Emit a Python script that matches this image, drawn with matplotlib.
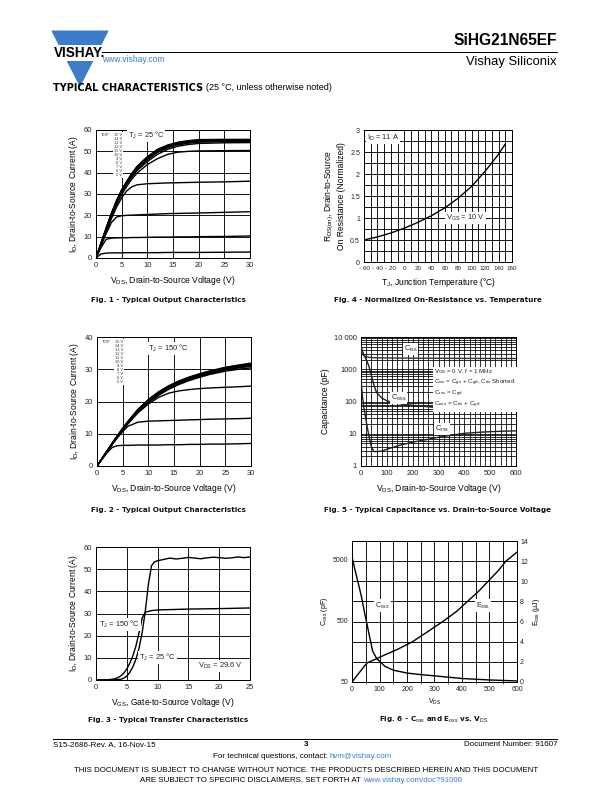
import matplotlib
matplotlib.use('Agg')
import matplotlib.pyplot as plt
from matplotlib.ticker import MultipleLocator, LogLocator, FixedLocator, NullFormatter
from matplotlib.patches import Polygon

plt.rcParams['font.family'] = ['Liberation Sans', 'DejaVu Sans']
plt.rcParams['mathtext.fontset'] = 'custom'
plt.rcParams['mathtext.rm'] = 'Liberation Sans'
plt.rcParams['mathtext.it'] = 'Liberation Sans'
plt.rcParams['mathtext.bf'] = 'Liberation Sans:bold'

W, H = 612, 792
BLUE = '#3d7cc9'

# ---------------- data ----------------
# Fig 1 - output characteristics, Tj = 25 C
f1_vds = [0, 1, 2, 3, 4, 5, 6, 7, 8, 10, 12, 14, 16, 18, 20, 25, 30]
f1_curves = {
    '15 V': [0, 7.2, 14.2, 21, 27, 32, 36, 39.8, 43, 47.5, 51, 53, 54.3, 55, 55.5, 55.6, 55.6],
    '14 V': [0, 7.1, 14, 20.8, 26.8, 31.8, 35.8, 39.5, 42.7, 47.2, 50.7, 52.7, 54, 54.8, 55.2, 55.4, 55.4],
    '13 V': [0, 7, 13.9, 20.6, 26.6, 31.6, 35.6, 39.2, 42.4, 46.9, 50.4, 52.4, 53.7, 54.5, 55, 55.1, 55.2],
    '12 V': [0, 6.9, 13.8, 20.4, 26.4, 31.4, 35.4, 38.9, 42, 46.5, 50, 52.1, 53.4, 54.2, 54.7, 54.9, 55],
    '11 V': [0, 6.8, 13.6, 20.2, 26.1, 31.1, 35, 38.5, 41.6, 46, 49.5, 51.7, 53, 53.8, 54.3, 54.5, 54.6],
    '10 V': [0, 6.7, 13.4, 19.9, 25.7, 30.6, 34.5, 38, 41, 45.2, 48.6, 51, 52.4, 53.2, 53.7, 54, 54.1],
    '9 V': [0, 6.5, 13, 19.3, 25, 29.8, 33.6, 37, 39.8, 43.8, 46.6, 48.6, 49.6, 50, 50.2, 50.3, 50.4],
    '8 V': [0, 6.2, 12.4, 18.4, 23.8, 28.2, 31.5, 33.4, 34.3, 34.8, 35, 35.2, 35.3, 35.4, 35.5, 35.7, 36],
    '7 V': [0, 5.8, 11.5, 16.6, 19.2, 19.8, 20, 20.1, 20.2, 20.4, 20.6, 20.8, 20.9, 21, 21.1, 21.4, 21.7],
    '6 V': [0, 5, 8.8, 9.3, 9.4, 9.5, 9.5, 9.6, 9.6, 9.7, 9.8, 9.8, 9.9, 9.9, 10, 10.1, 10.3],
    '5 V': [0, 1.9, 2.3, 2.4, 2.4, 2.4, 2.5, 2.5, 2.5, 2.5, 2.5, 2.6, 2.6, 2.6, 2.6, 2.7, 2.8],
}

# Fig 2 - output characteristics, Tj = 150 C
f2_vds = [0, 1, 2, 3, 4, 5, 6, 8, 10, 12, 14, 16, 18, 20, 22, 25, 28, 30]
f2_curves = {
    '15 V': [0, 2.4, 4.8, 7.2, 9.5, 11.7, 13.8, 17.6, 20.6, 23, 24.9, 26.4, 27.6, 28.6, 29.5, 30.6, 31.4, 31.9],
    '14 V': [0, 2.4, 4.8, 7.1, 9.4, 11.6, 13.7, 17.5, 20.5, 22.9, 24.8, 26.3, 27.5, 28.5, 29.4, 30.5, 31.3, 31.7],
    '13 V': [0, 2.4, 4.7, 7.1, 9.4, 11.6, 13.6, 17.4, 20.4, 22.8, 24.7, 26.2, 27.4, 28.4, 29.3, 30.4, 31.1, 31.5],
    '12 V': [0, 2.3, 4.7, 7, 9.3, 11.5, 13.5, 17.3, 20.3, 22.6, 24.5, 26, 27.2, 28.2, 29.1, 30.2, 30.9, 31.3],
    '11 V': [0, 2.3, 4.7, 7, 9.3, 11.4, 13.5, 17.2, 20.1, 22.4, 24.3, 25.8, 27, 28, 28.9, 30, 30.7, 31.1],
    '10 V': [0, 2.3, 4.6, 6.9, 9.2, 11.3, 13.4, 17, 19.9, 22.2, 24.1, 25.6, 26.8, 27.8, 28.7, 29.8, 30.5, 30.9],
    '9 V': [0, 2.3, 4.6, 6.9, 9.1, 11.2, 13.2, 16.8, 19.6, 21.9, 23.8, 25.3, 26.5, 27.5, 28.4, 29.4, 30.1, 30.4],
    '8 V': [0, 2.3, 4.6, 6.8, 9, 11.1, 13, 16.5, 19.2, 21.3, 22.6, 23.3, 23.7, 24, 24.2, 24.4, 24.6, 24.8],
    '7 V': [0, 2.2, 4.5, 6.7, 8.8, 10.7, 12.3, 13.6, 13.9, 14, 14.1, 14.2, 14.3, 14.4, 14.5, 14.6, 14.7, 14.8],
    '6 V': [0, 2.1, 4.2, 5.8, 6.3, 6.4, 6.4, 6.5, 6.5, 6.5, 6.6, 6.6, 6.7, 6.7, 6.8, 6.8, 6.9, 7],
}

# Fig 3 - transfer characteristics
f3_vgs_25 = [0, 2, 3, 4, 4.5, 5, 5.5, 6, 6.5, 7, 7.5, 8, 8.5, 9, 9.5, 10, 11, 12, 13, 14, 15, 16, 17, 18, 19, 20, 21, 22, 23, 24, 25]
f3_id_25 = [0, 0, 0.1, 0.3, 0.8, 1.8, 3.5, 6, 9.5, 14.5, 21.5, 31, 43, 51.5, 53.3, 53.8, 54.4, 55, 54.6, 54.9, 55.3, 55, 54.7, 55.1, 55.4, 55.2, 54.9, 55.1, 55.5, 55.2, 55.5]
f3_vgs_150 = [0, 2, 3, 3.5, 4, 4.5, 5, 5.5, 6, 6.5, 7, 7.5, 8, 9, 10, 15, 20, 25]
f3_id_150 = [0, 0.1, 0.5, 1, 1.8, 3, 5, 7.6, 11, 15.5, 21.5, 28, 30.6, 31.3, 31.6, 32, 32.2, 32.5]

# Fig 4 - normalized on-resistance vs temperature
f4_tj = [-60, -40, -20, 0, 20, 40, 60, 80, 100, 120, 140, 150]
f4_rds = [0.5, 0.57, 0.66, 0.77, 0.9, 1.05, 1.23, 1.45, 1.72, 2.06, 2.45, 2.68]

# Fig 5 - capacitance vs VDS
f5_vds = [0, 5, 10, 20, 30, 40, 50, 60, 80, 100, 120, 150, 200, 250, 300, 350, 400, 450, 500, 550, 600]
f5_ciss = [3800, 3000, 2700, 2450, 2350, 2300, 2280, 2260, 2250, 2240, 2230, 2220, 2210, 2200, 2190, 2180, 2170, 2165, 2160, 2155, 2150]
f5_coss = [5500, 3800, 2900, 2000, 1300, 650, 330, 190, 130, 105, 95, 85, 76, 70, 64, 60, 57, 55, 54, 53, 52]
f5_crss = [520, 160, 75, 25, 9, 4, 2.8, 2.8, 2.9, 3.3, 3.7, 4.4, 5.5, 6.5, 7.8, 9, 10.3, 11, 11.6, 12, 12.3]

# Fig 6 - Coss and Eoss vs VDS
f6_vds_c = [0, 10, 20, 27, 35, 45, 55, 65, 75, 90, 120, 150, 200, 250, 300, 400, 500, 600]
f6_coss = [5500, 3500, 2300, 1700, 1200, 700, 430, 260, 160, 120, 90, 78, 70, 66, 63, 57, 54, 52]
f6_vds_e = [0, 20, 40, 55, 80, 120, 170, 220, 270, 330, 380, 420, 460, 495, 530, 560, 600]
f6_eoss = [0, 0.7, 1.4, 1.9, 2.2, 2.7, 3.3, 4.0, 4.9, 6.0, 7.0, 8.0, 9.0, 10.0, 11.0, 12.0, 12.9]

legend_vgs = ['15 V', '14 V', '13 V', '12 V', '11 V', '10 V', '9 V', '8 V', '7 V', '6 V', '5 V']

# ---------------- figure ----------------
fig = plt.figure(figsize=(W / 72, H / 72), dpi=72)

TICK = 7.5
LAB = 8.5
ANN = 7.5


def px_axes(x0, y0, x1, y1):
    return fig.add_axes([x0 / W, 1 - y1 / H, (x1 - x0) / W, (y1 - y0) / H])


def style(ax, fs=TICK):
    ax.tick_params(length=0, labelsize=fs, pad=4, colors='#222222')
    for s in ax.spines.values():
        s.set_linewidth(1.0)
        s.set_color('black')
    ax.set_axisbelow(True)


def boxed(ax, x, y, s, fs=ANN, **kw):
    ax.text(x, y, s, fontsize=fs, color='#222222', va='center', ha=kw.pop('ha', 'left'),
            bbox=dict(facecolor='white', edgecolor='none', pad=1.0), zorder=5, **kw)


def vgs_legend(ax):
    ax.text(0.03, 0.975, 'TOP', transform=ax.transAxes, fontsize=4.3, va='top', ha='left',
            color='#333333', zorder=6)
    ax.text(0.17, 0.975, '\n'.join(legend_vgs), transform=ax.transAxes, fontsize=4.0,
            va='top', ha='right', color='#333333', linespacing=1.0, zorder=6,
            bbox=dict(facecolor='white', edgecolor='none', pad=0.8))


GRID = dict(color='black', linewidth=0.9)
LW = 1.4

# Fig 1
ax1 = px_axes(96, 130, 250, 258)
for name, ys in f1_curves.items():
    ax1.plot(f1_vds, ys, color='black', lw=LW, zorder=3)
ax1.set_xlim(0, 30)
ax1.set_ylim(0, 60)
ax1.xaxis.set_major_locator(MultipleLocator(5))
ax1.yaxis.set_major_locator(MultipleLocator(10))
ax1.grid(True, **GRID)
style(ax1)
ax1.set_xlabel(r'V$_{\rm DS}$, Drain-to-Source Voltage (V)', fontsize=LAB, labelpad=5)
ax1.set_ylabel(r'I$_{\rm D}$, Drain-to-Source Current (A)', fontsize=LAB, labelpad=4)
vgs_legend(ax1)
boxed(ax1, 6.2, 57.3, r'T$_{\rm J}$ = 25 °C')

# Fig 2
ax2 = px_axes(97, 337, 251, 466)
for name, ys in f2_curves.items():
    ax2.plot(f2_vds, ys, color='black', lw=LW, zorder=3)
ax2.set_xlim(0, 30)
ax2.set_ylim(0, 40)
ax2.xaxis.set_major_locator(MultipleLocator(5))
ax2.yaxis.set_major_locator(MultipleLocator(10))
ax2.grid(True, **GRID)
style(ax2)
ax2.set_xlabel(r'V$_{\rm DS}$, Drain-to-Source Voltage (V)', fontsize=LAB, labelpad=5)
ax2.set_ylabel(r'I$_{\rm D}$, Drain-to-Source Current (A)', fontsize=LAB, labelpad=4)
vgs_legend(ax2)
boxed(ax2, 10, 36.5, r'T$_{\rm J}$ = 150 °C')

# Fig 3
ax3 = px_axes(96, 547, 250, 680)
ax3.plot(f3_vgs_25, f3_id_25, color='black', lw=LW, zorder=3)
ax3.plot(f3_vgs_150, f3_id_150, color='black', lw=LW, zorder=3)
ax3.set_xlim(0, 25)
ax3.set_ylim(0, 60)
ax3.xaxis.set_major_locator(MultipleLocator(5))
ax3.yaxis.set_major_locator(MultipleLocator(10))
ax3.grid(True, **GRID)
style(ax3)
ax3.set_xlabel(r'V$_{\rm GS}$, Gate-to-Source Voltage (V)', fontsize=LAB, labelpad=5)
ax3.set_ylabel(r'I$_{\rm D}$, Drain-to-Source Current (A)', fontsize=LAB, labelpad=4)
boxed(ax3, 0.5, 25, r'T$_{\rm J}$ = 150 °C')
boxed(ax3, 7.0, 10, r'T$_{\rm J}$ = 25 °C')
boxed(ax3, 16.5, 6.5, r'V$_{\rm DS}$ = 29.6 V')

# Fig 4
ax4 = px_axes(364, 130, 512, 262)
ax4.plot(f4_tj, f4_rds, color='black', lw=LW, zorder=3)
ax4.set_xlim(-60, 160)
ax4.set_ylim(0, 3)
ax4.xaxis.set_minor_locator(MultipleLocator(10))
ax4.yaxis.set_minor_locator(MultipleLocator(0.25))
ax4.set_xticks(range(-60, 161, 20))
ax4.set_xticklabels(['- 60', '- 40', '- 20', '0', '20', '40', '60', '80', '100', '120', '140', '160'])
ax4.set_yticks([0, 0.5, 1, 1.5, 2, 2.5, 3])
ax4.set_yticklabels(['0', '0.5', '1', '1.5', '2', '2.5', '3'])
ax4.grid(True, which='both', **GRID)
style(ax4, fs=7)
ax4.tick_params(axis='x', labelsize=6.2)
ax4.tick_params(which='minor', length=0)
ax4.set_xlabel(r'T$_{\rm J}$, Junction Temperature (°C)', fontsize=LAB, labelpad=5)
ax4.set_ylabel('R$_{\\rm DS(on)}$, Drain-to-Source\nOn Resistance (Normalized)', fontsize=LAB,
               labelpad=4, linespacing=1.1)
boxed(ax4, -56, 2.83, r'I$_{\rm D}$ = 11 A')
boxed(ax4, 62, 1.0, r'V$_{\rm GS}$ = 10 V')

# Fig 5
ax5 = px_axes(361, 337, 516, 466)
ax5.plot(f5_vds, f5_ciss, color='#333333', lw=LW, zorder=3)
ax5.plot(f5_vds, f5_coss, color='#222222', lw=LW, zorder=3)
ax5.plot(f5_vds, f5_crss, color='#222222', lw=LW, zorder=3)
ax5.set_yscale('log')
ax5.set_xlim(0, 600)
ax5.set_ylim(1, 10000)
ax5.xaxis.set_major_locator(MultipleLocator(100))
ax5.xaxis.set_minor_locator(MultipleLocator(20))
ax5.yaxis.set_major_locator(FixedLocator([1, 10, 100, 1000, 10000]))
ax5.yaxis.set_minor_locator(LogLocator(base=10, subs=range(2, 10)))
ax5.yaxis.set_minor_formatter(NullFormatter())
ax5.set_yticklabels(['1', '10', '100', '1000', '10 000'])
ax5.grid(True, which='both', color='black', linewidth=0.8)
style(ax5)
ax5.tick_params(which='minor', length=0)
ax5.set_xlabel(r'V$_{\rm DS}$, Drain-to-Source Voltage (V)', fontsize=LAB, labelpad=5)
ax5.set_ylabel('Capacitance (pF)', fontsize=LAB, labelpad=4)
boxed(ax5, 165, 4200, r'C$_{\rm iss}$')
boxed(ax5, 115, 130, r'C$_{\rm oss}$')
boxed(ax5, 285, 14, r'C$_{\rm rss}$')
ax5.text(283, 1150, 'V$_{\\rm GS}$ = 0 V, f = 1 MHz\n'
         'C$_{\\rm iss}$ = C$_{\\rm gs}$ + C$_{\\rm gd}$, C$_{\\rm ds}$ Shorted\n'
         'C$_{\\rm rss}$ = C$_{\\rm gd}$\n'
         'C$_{\\rm oss}$ = C$_{\\rm ds}$ + C$_{\\rm gd}$',
         fontsize=6.3, va='top', ha='left', color='#222222', linespacing=1.2, zorder=5,
         bbox=dict(facecolor='white', edgecolor='none', pad=1.5))

# Fig 6
ax6 = px_axes(352, 541, 517, 682)
ax6.plot(f6_vds_c, f6_coss, color='black', lw=LW, zorder=3)
ax6.set_yscale('log')
ax6.set_xlim(0, 600)
ax6.set_ylim(50, 10000)
ax6.xaxis.set_major_locator(MultipleLocator(100))
ax6.xaxis.set_minor_locator(MultipleLocator(50))
ax6.yaxis.set_major_locator(FixedLocator([50, 500, 5000]))
ax6.yaxis.set_minor_locator(FixedLocator([]))
ax6.set_yticklabels(['50', '500', '5000'])
ax6.grid(True, axis='x', which='both', **GRID)
style(ax6, fs=7)
ax6.set_xlabel(r'V$_{\rm DS}$', fontsize=7, labelpad=4)
ax6.set_ylabel(r'C$_{\rm oss}$ (pF)', fontsize=7, labelpad=2)
ax6b = ax6.twinx()
ax6b.plot(f6_vds_e, f6_eoss, color='black', lw=LW, zorder=3)
ax6b.set_ylim(0, 14)
ax6b.yaxis.set_major_locator(MultipleLocator(2))
ax6b.grid(True, axis='y', **GRID)
style(ax6b, fs=7)
ax6b.tick_params(pad=3)
ax6b.set_ylabel(r'E$_{\rm oss}$ (µJ)', fontsize=7, labelpad=3)
boxed(ax6b, 85, 7.6, r'C$_{\rm oss}$', fs=7)
boxed(ax6b, 450, 7.6, r'E$_{\rm oss}$', fs=7)

# captions
cap = dict(fontsize=7.3, fontweight='bold', ha='center', va='center', color='#111111',
           family='DejaVu Sans')
fig.text(168 / W, 1 - 300 / H, 'Fig. 1 - Typical Output Characteristics', **cap)
fig.text(438 / W, 1 - 300 / H, 'Fig. 4 - Normalized On-Resistance vs. Temperature', **cap)
fig.text(168 / W, 1 - 510 / H, 'Fig. 2 - Typical Output Characteristics', **cap)
fig.text(438 / W, 1 - 510 / H, 'Fig. 5 - Typical Capacitance vs. Drain-to-Source Voltage', **cap)
fig.text(168 / W, 1 - 720 / H, 'Fig. 3 - Typical Transfer Characteristics', **cap)
fig.text(434 / W, 1 - 720 / H, 'Fig. 6 - C$_{\\rm oss}$ and E$_{\\rm oss}$ vs. V$_{\\rm DS}$', **cap)

# header / footer drawn on a page-sized overlay
page = fig.add_axes([0, 0, 1, 1], zorder=-1)
page.set_xlim(0, W)
page.set_ylim(H, 0)
page.axis('off')
page.add_patch(Polygon([(52, 31), (108, 31), (80, 86)], closed=True, color=BLUE))
page.add_patch(Polygon([(40, 45), (120, 45), (120, 60), (40, 60)], closed=True, color='white'))
page.text(80, 53, 'VISHAY.', fontsize=13.5, fontweight='bold', ha='center', va='center',
          color='black')
page.plot([102, 557], [52, 52], color='black', lw=1.0)
page.text(557, 48, 'SiHG21N65EF', fontsize=15.5, fontweight='bold', ha='right', va='bottom')
page.text(557, 62, 'Vishay Siliconix', fontsize=13, ha='right', va='center')
page.text(102, 59, 'www.vishay.com', fontsize=8.5, ha='left', va='center', color=BLUE)
page.text(53, 88, 'TYPICAL CHARACTERISTICS', fontsize=9.8, fontweight='bold', ha='left',
          va='center', family='DejaVu Sans')
page.text(206, 88, '(25 °C, unless otherwise noted)', fontsize=9, ha='left', va='center')

FS = 8
page.plot([53, 557], [739, 739], color='black', lw=1.0)
page.text(53, 745, 'S15-2686-Rev. A, 16-Nov-15', fontsize=FS, ha='left', va='center')
page.text(306, 745, '3', fontsize=FS, fontweight='bold', ha='center', va='center')
page.text(557, 745, 'Document Number: 91607', fontsize=FS, ha='right', va='center')
page.text(330, 757, 'For technical questions, contact: ', fontsize=FS, ha='right', va='center')
page.text(330, 757, 'hvm@vishay.com', fontsize=FS, ha='left', va='center', color=BLUE)
page.text(306, 770, 'THIS DOCUMENT IS SUBJECT TO CHANGE WITHOUT NOTICE. THE PRODUCTS DESCRIBED HEREIN AND THIS DOCUMENT',
          fontsize=7.9, ha='center', va='center')
page.text(363, 780, 'ARE SUBJECT TO SPECIFIC DISCLAIMERS, SET FORTH AT ', fontsize=7.9, ha='right', va='center')
page.text(363, 780, 'www.vishay.com/doc?91000', fontsize=7.9, ha='left', va='center', color=BLUE)

fig.savefig('out.png', dpi=72)
